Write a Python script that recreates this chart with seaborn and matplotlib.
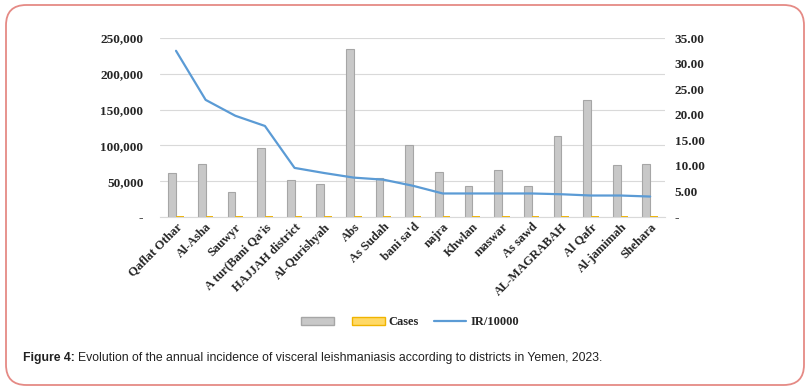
import numpy as np
import pandas as pd
import matplotlib
matplotlib.use("Agg")
import matplotlib.pyplot as plt
import seaborn as sns
from matplotlib.patches import Patch, FancyBboxPatch
from matplotlib.lines import Line2D
from matplotlib.ticker import FuncFormatter, FixedLocator

districts = ["Qaflat Othar", "Al-Asha", "Sauwyr", "A tur(Bani Qa'is", "HAJJAH district",
             "Al-Qurishyah", "Abs", "As Sudah", "bani sa'd", "najra", "Khwlan", "maswar",
             "As sawd", "AL-MAGRABAH", "Al Qafr", "Al-jamimah", "Shehara"]
population = [61900, 73700, 35200, 95700, 51200, 46400, 234100, 54000, 100900,
              63300, 43200, 65300, 43200, 113500, 163800, 72300, 73700]
cases = [201, 169, 70, 170, 49, 40, 180, 39, 62, 29, 20, 30, 20, 51, 69, 30, 29]
ir_per_10000 = [32.5, 22.9, 19.8, 17.8, 9.6, 8.6, 7.7, 7.3, 6.1, 4.6, 4.6, 4.6,
                4.6, 4.45, 4.2, 4.2, 4.0]
left_ticks = [0, 50000, 100000, 150000, 200000, 250000]
right_ticks = [0, 5, 10, 15, 20, 25, 30, 35]

sns.set_theme(style="white")
plt.rcParams['font.family'] = ['Liberation Serif', 'DejaVu Serif']

W, H = 811, 390
fig = plt.figure(figsize=(W / 100, H / 100), dpi=100)
ax = fig.add_axes([160 / W, 1 - 217 / H, (665 - 160) / W, (217 - 38) / H])

df = pd.DataFrame({
    "district": districts * 2,
    "value": population + cases,
    "series": ["Population"] * len(districts) + ["Cases"] * len(districts),
})
GRAY = "#c8c8c8"
GOLD = "#ffd966"
sns.barplot(data=df, x="district", y="value", hue="series", order=districts,
            hue_order=["Population", "Cases"], palette=[GRAY, GOLD],
            width=0.52, ax=ax, legend=False, saturation=1)
n = len(districts)
for i, p in enumerate(ax.patches[:2 * n]):
    if i < n:
        p.set_edgecolor("#a6a6a6")
        p.set_linewidth(0.8)
    else:
        p.set_edgecolor("#f0b400")
        p.set_linewidth(1.4)

ax.set_ylim(0, 250000)
ax.set_xlim(-0.54, 16.5)
ax.yaxis.set_major_locator(FixedLocator(left_ticks))
ax.yaxis.set_major_formatter(FuncFormatter(lambda v, p: "-" if v == 0 else f"{int(v):,}"))
ax.grid(axis="y", color="#d9d9d9", linewidth=0.8)
ax.set_axisbelow(True)
for s in ["top", "right", "left"]:
    ax.spines[s].set_visible(False)
ax.spines["bottom"].set_color("#d9d9d9")
ax.spines["bottom"].set_linewidth(0.8)
ax.set_xlabel("")
ax.set_ylabel("")
ax.tick_params(axis="y", length=0, pad=12, labelsize=9.5)
ax.tick_params(axis="x", length=0, pad=3)
ax.set_xticks(range(n))
ax.set_xticklabels(districts, rotation=45, ha="right", rotation_mode="anchor",
                   fontsize=9, fontweight="bold")
for t in ax.get_yticklabels():
    t.set_fontweight("bold")

ax2 = ax.twinx()
sns.lineplot(x=np.arange(n), y=ir_per_10000, ax=ax2, color="#5b9bd5", linewidth=1.6)
ax2.set_ylim(0, 35)
ax2.yaxis.set_major_locator(FixedLocator(right_ticks))
ax2.yaxis.set_major_formatter(FuncFormatter(lambda v, p: "-" if v == 0 else f"{v:.2f}"))
ax2.tick_params(axis="y", length=0, pad=7, labelsize=9.5)
for t in ax2.get_yticklabels():
    t.set_fontweight("bold")
for s in ax2.spines.values():
    s.set_visible(False)
ax2.grid(False)
ax2.set_ylabel("")

handles = [Patch(facecolor=GRAY, edgecolor="#a6a6a6"),
           Patch(facecolor=GOLD, edgecolor="#f0b400"),
           Line2D([0], [0], color="#5b9bd5", linewidth=1.6)]
fig.legend(handles, ["", "Cases", "IR/10000"], loc="center", ncol=3,
           bbox_to_anchor=(410 / W, 1 - 322 / H), frameon=False,
           prop={"weight": "bold", "size": 9}, handlelength=2.6, handleheight=0.6,
           columnspacing=1.2, handletextpad=0.3)

# rounded border
border = FancyBboxPatch((6 / W, 5 / H), (804 - 6) / W, (385 - 5) / H,
                        boxstyle="round,pad=0,rounding_size=0.025",
                        transform=fig.transFigure, facecolor="none",
                        edgecolor="#e58a85", linewidth=1.3, mutation_aspect=W / H)
fig.patches.append(border)

# caption
fig.canvas.draw()
r = fig.canvas.get_renderer()
cap_y = 1 - 358 / H
t1 = fig.text(23 / W, cap_y, "Figure 4:", fontsize=8.8, fontweight="bold",
              family=["Liberation Sans", "DejaVu Sans"], color="#222222", va="center")
bb = t1.get_window_extent(renderer=r)
fig.text((bb.x1 + 3) / W, cap_y,
         "Evolution of the annual incidence of visceral leishmaniasis according to districts in Yemen, 2023.",
         fontsize=8.8, family=["Liberation Sans", "DejaVu Sans"], color="#222222", va="center")

fig.savefig("out.png", dpi=100, facecolor="white")
